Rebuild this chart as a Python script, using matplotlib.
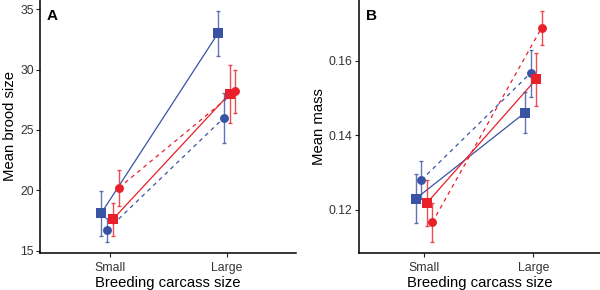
import matplotlib.pyplot as plt

plt.rcParams['font.family'] = ['Liberation Sans', 'DejaVu Sans']

carcass = ['Small', 'Large']
# group order: blue square, blue circle, red square, red circle
groups = ['blue_sq', 'blue_ci', 'red_sq', 'red_ci']
colors = ['#3953a4', '#3953a4', '#e8202a', '#e8202a']
markers = ['s', 'o', 's', 'o']
dashed = [False, True, False, True]

brood_mean = [[18.1, 33.0], [16.7, 26.0], [17.6, 28.0], [20.2, 28.2]]
brood_se = [[1.85, 1.85], [1.0, 2.05], [1.35, 2.4], [1.5, 1.8]]

mass_mean = [[0.1230, 0.1461], [0.1280, 0.1567], [0.1218, 0.1550], [0.1166, 0.1688]]
mass_se = [[0.0065, 0.0054], [0.0051, 0.0063], [0.0061, 0.0071], [0.0053, 0.0045]]

offsets = [-0.075, -0.025, 0.025, 0.075]

fig = plt.figure(figsize=(6, 2.9), dpi=100)
axA = fig.add_axes([0.0667, 0.1276, 0.4266, 0.8724])
axB = fig.add_axes([0.598, 0.1276, 0.402, 0.8724])


def draw(ax, means, ses):
    for i in range(4):
        xs = [1 + offsets[i], 2 + offsets[i]]
        line, = ax.plot(xs, means[i], color=colors[i], lw=0.9, zorder=2)
        if dashed[i]:
            line.set_dashes((3.2, 3.2))
        ax.errorbar(xs, means[i], yerr=ses[i], fmt='none', ecolor=colors[i],
                    elinewidth=1.0, capsize=1.5, capthick=1.0, alpha=0.8, zorder=3)
        ax.plot(xs, means[i], ls='none', marker=markers[i], color=colors[i],
                ms=6.6 if markers[i] == 's' else 6.4, mew=0, zorder=4)
    ax.set_xticks([1, 2])
    ax.set_xticklabels(carcass)
    ax.spines['top'].set_visible(False)
    ax.spines['right'].set_visible(False)
    for s in ['left', 'bottom']:
        ax.spines[s].set_linewidth(1.1)
    ax.tick_params(direction='out', length=3, width=0.8, labelsize=8.8, pad=1.5,
                   colors='#222222', labelcolor='#333333')
    ax.tick_params(axis='x', pad=3.5)
    ax.set_xlabel('Breeding carcass size', fontsize=10.7, labelpad=1.5)


draw(axA, brood_mean, brood_se)
axA.set_xlim(0.4, 2.594)
axA.set_ylim(14.8, 35.77)
axA.set_yticks([15, 20, 25, 30, 35])
axA.set_ylabel('Mean brood size', fontsize=10.7, labelpad=2)
axA.text(0.027, 0.937, 'A', transform=axA.transAxes, fontsize=11, fontweight='bold',
         va='center', ha='left')

draw(axB, mass_mean, mass_se)
axB.set_xlim(0.4026, 2.61)
axB.set_ylim(0.1084, 0.1763)
axB.set_yticks([0.12, 0.14, 0.16])
axB.set_yticklabels(['0.12', '0.14', '0.16'])
axB.set_ylabel('Mean mass', fontsize=10.7, labelpad=2)
axB.text(0.028, 0.937, 'B', transform=axB.transAxes, fontsize=11, fontweight='bold',
         va='center', ha='left')

fig.savefig('out.png', dpi=100)
